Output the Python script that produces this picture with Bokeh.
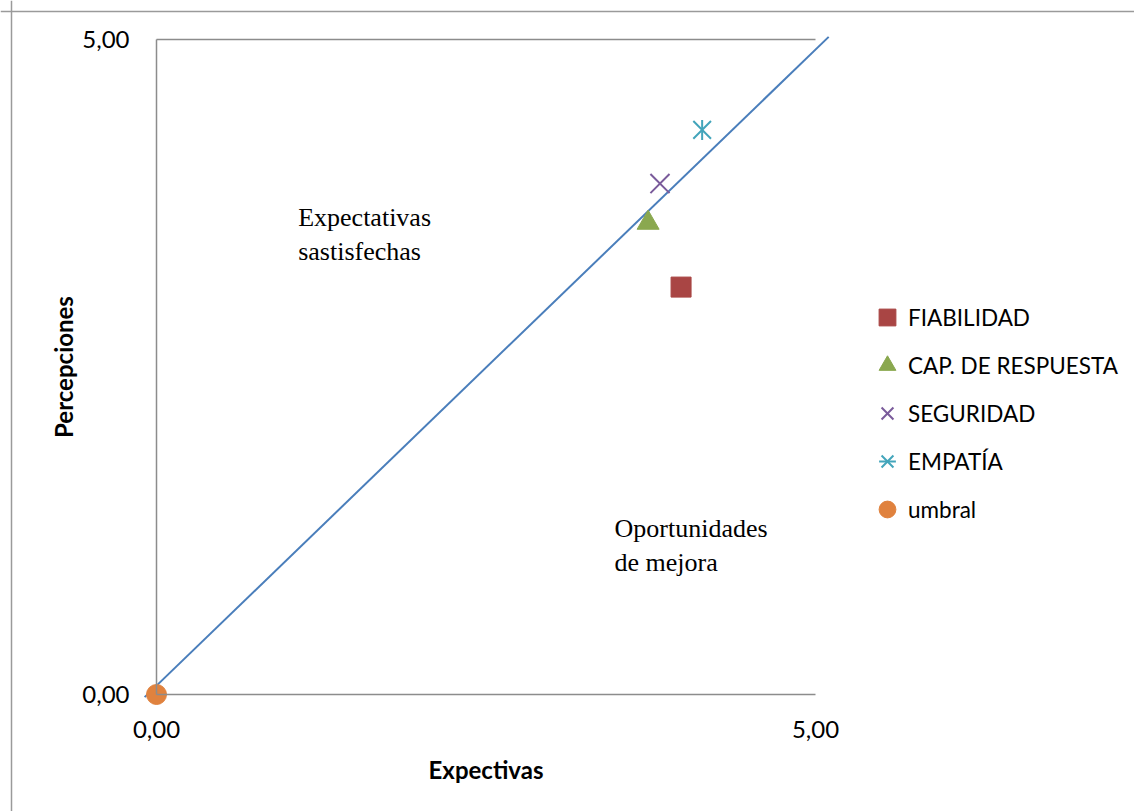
from bokeh.plotting import figure
from bokeh.models import (Range1d, FixedTicker, Legend, LegendItem, Label,
                          LinearAxis, Span)
from bokeh.embed import file_html
from bokeh.resources import INLINE
import math

# ---- data ----
series = ["FIABILIDAD", "CAP. DE RESPUESTA", "SEGURIDAD", "EMPATÍA", "umbral"]
expectativas = [3.98, 3.73, 3.82, 4.14, 0.0]
percepciones = [3.11, 3.60, 3.90, 4.31, 0.0]
line_x = [-0.09, 5.10]
line_y = [-0.02, 5.02]
tick_values = [0, 5]
tick_labels = ["0,00", "5,00"]
axis_min, axis_max = 0, 5
notes = ["Expectativas\nsastisfechas", "Oportunidades\nde mejora"]
note_x = [1.075, 3.475]
note_y = [3.75, 1.375]

# ---- layout / styles ----
W, H = 1134, 811
X0_PX, Y0_PX, PX_X, PX_Y = 156, 694, 131.8, 131.0   # pixel position of origin, px per unit
colors = ["#A94544", "#8AA84F", "#7A5B9B", "#43A5BB", "#E0823E"]
GRAY = "#8C8C8C"
FONT = "Lato"

p = figure(width=W, height=H,
           x_range=Range1d(-X0_PX / PX_X, (W - X0_PX) / PX_X),
           y_range=Range1d(-(H - Y0_PX) / PX_Y, Y0_PX / PX_Y),
           output_backend="svg", toolbar_location=None, min_border=0)
p.outline_line_color = None
p.background_fill_color = "white"
p.border_fill_color = "white"
p.grid.visible = False

for ax in (p.xaxis[0], p.yaxis[0]):
    ax.fixed_location = 0
    ax.bounds = (axis_min, axis_max)
    ax.ticker = FixedTicker(ticks=tick_values)
    ax.major_label_overrides = dict(zip(tick_values, tick_labels))
    ax.major_tick_line_color = None
    ax.minor_tick_line_color = None
    ax.axis_line_color = GRAY
    ax.axis_line_width = 1.5
    ax.major_label_text_font = FONT
    ax.major_label_text_font_size = "24px"
    ax.major_label_text_color = "black"
    ax.axis_label_text_font = FONT
    ax.axis_label_text_font_style = "bold"
    ax.axis_label_text_font_size = "24px"
    ax.axis_label_text_color = "black"

p.xaxis.axis_label = "Expectivas"
p.yaxis.axis_label = "Percepciones"
p.xaxis.major_label_standoff = 20
p.yaxis.major_label_standoff = 21
p.xaxis.axis_label_standoff = 14
p.yaxis.axis_label_standoff = 1

# horizontal reference line at the top value (like a major gridline from 0 to 5)
top_axis = LinearAxis(fixed_location=axis_max, bounds=(axis_min, axis_max),
                      ticker=FixedTicker(ticks=[]), axis_line_color=GRAY,
                      axis_line_width=1.5, major_tick_line_color=None,
                      minor_tick_line_color=None, major_label_text_font_size="0px")
p.add_layout(top_axis, "above")

# outer chart border (top and left edges)
p.add_layout(Span(location=(11 - X0_PX) / PX_X, dimension="height",
                  line_color="#9A9A9A", line_width=1.5))
p.add_layout(Span(location=(Y0_PX - 11) / PX_Y, dimension="width",
                  line_color="#9A9A9A", line_width=1.5))

p.line(line_x, line_y, line_color="#4A7EBB", line_width=2)

items = []
r0 = p.scatter([expectativas[0]], [percepciones[0]], marker="square", size=20,
               fill_color=colors[0], line_color=colors[0])
items.append(LegendItem(label=series[0], renderers=[r0]))
r1 = p.scatter([expectativas[1]], [percepciones[1]], marker="triangle", size=22,
               fill_color=colors[1], line_color=colors[1])
items.append(LegendItem(label=series[1], renderers=[r1]))
r2 = p.scatter([expectativas[2]], [percepciones[2]], marker="x", size=27,
               line_color=colors[2], line_width=2)
items.append(LegendItem(label=series[2], renderers=[r2]))
r3a = p.scatter([expectativas[3]], [percepciones[3]], marker="x", size=25,
                line_color=colors[3], line_width=2)
r3b = p.scatter([expectativas[3]], [percepciones[3]], marker="dash", size=20,
                angle=math.pi / 2, line_color=colors[3], line_width=2)
items.append(LegendItem(label=series[3], renderers=[r3a, r3b]))
r4 = p.scatter([expectativas[4]], [percepciones[4]], marker="circle", size=20,
               fill_color=colors[4], line_color=colors[4])
items.append(LegendItem(label=series[4], renderers=[r4]))

legend = Legend(items=items, location=(866, 278), glyph_width=42, glyph_height=48,
                label_height=48, spacing=0, label_standoff=0, padding=0, margin=0,
                border_line_color=None, background_fill_alpha=0,
                label_text_font=FONT, label_text_font_size="22.5px",
                label_text_color="black")
p.add_layout(legend)

for t, x, y in zip(notes, note_x, note_y):
    p.add_layout(Label(x=x, y=y, text=t, text_font="Liberation Serif",
                       text_font_size="26px", text_baseline="top",
                       text_line_height=1.15, text_color="black"))

open("out.html", "w").write(file_html(p, INLINE))
